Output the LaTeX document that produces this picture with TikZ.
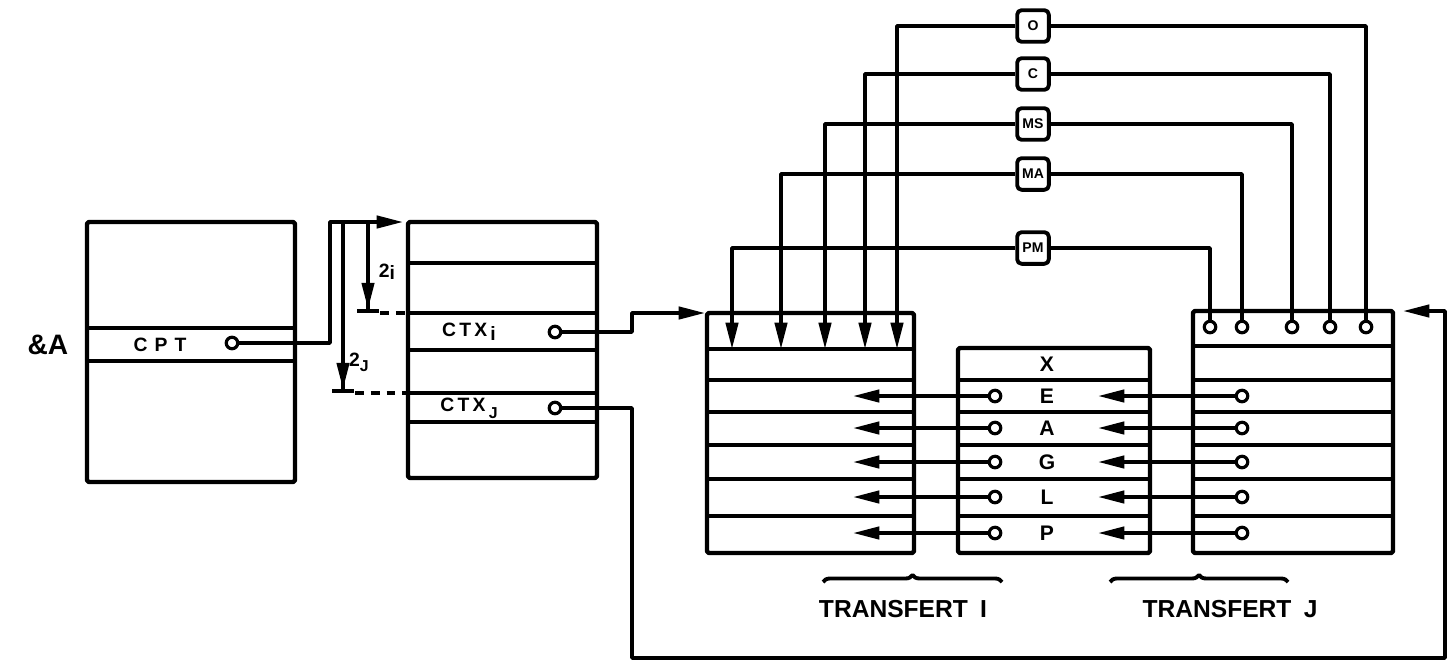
\documentclass[tikz,border=0pt]{standalone}
\usepackage{fontspec}
\setmainfont{Liberation Sans}
\usetikzlibrary{arrows.meta}
\usetikzlibrary{decorations.pathreplacing}
\usetikzlibrary{positioning}

\begin{document}
\begin{tikzpicture}[x=0.02cm, y=-0.02cm, line width=2pt, line join=round]
    \tikzset{
        every node/.style={font=\bfseries\fontsize{11}{11}\selectfont},
        port/.style={circle, draw, fill=white, inner sep=0pt, minimum size=2.3mm, line width=1.8pt},
        flag/.style={draw, rounded corners=2.5pt, fill=white, minimum size=18pt, inner sep=0pt, font=\bfseries\footnotesize, line width=2.2pt},
        tip/.style={-{Triangle[length=15pt, width=7pt]}},
        tipbar/.style={-{Triangle[length=15pt, width=7pt]Bar[width=12pt, line width=2.2pt]}},
        block/.style={line width=2.5pt, rounded corners=1pt},
        mark line/.style={dash pattern=on 5pt off 4pt},
        big/.style={font=\bfseries\fontsize{14}{14}\selectfont},
    }
    \useasboundingbox (0,0) rectangle (1456,663);

    % draw block &A
    \draw[block] (87,222) rectangle (295,482);
    \draw (87,328) -- (295,328);
    \draw (87,361) -- (295,361);
    \node[font=\bfseries\fontsize{16}{16}\selectfont] (amp) at (48,345) {\&A};
    \node (cpt) at (160,345) {C\hspace{4pt}P\hspace{4pt}T};
    \node[port] (pcpt) at (232,343) {};

    % draw block of the contexts
    \draw[block] (408,222) rectangle (597,478);
    \foreach \y in {263,313,350,393,422}
        \draw (408,\y) -- (597,\y);
    \coordinate (ctxtop) at (403,222);
    \node (ctxi) at (469,332) {C\,T\,X\,\raisebox{-2pt}{i}};
    \node[port] (pi) at (555,332) {};
    \node (ctxj) at (469,408) {C\,T\,X\,\raisebox{-4pt}{\small J}};
    \node[port] (pj) at (555,408) {};

    % pointer to the context block
    \draw[tip] (pcpt) -- ++(98,0) |- (ctxtop);

    % displacements 2i and 2J
    \coordinate (di) at (368,222);
    \coordinate (mi) at (368,313);
    \coordinate (dj) at (343,222);
    \coordinate (mj) at (343,393);
    \draw[tipbar] (di) -- (mi);
    \draw[tipbar] (dj) -- (mj);
    \draw[mark line] (380,313) -- (408,313);
    \draw[mark line] (355,393) -- (408,393);
    \node (l2i) at (387,272) {2\raisebox{-1pt}{i}};
    \node (l2j) at (359,362) {2\raisebox{-3pt}{\small J}};

    % draw the three transfer blocks
    \draw[block] (707,313) rectangle (914,553);
    \foreach \y in {349,380,412,445,479,516}
        \draw (707,\y) -- (914,\y);
    \draw[block] (958,348) rectangle (1150,553);
    \foreach \y in {380,412,445,479,516}
        \draw (958,\y) -- (1150,\y);
    \draw[block] (1193,311) rectangle (1393,553);
    \foreach \y in {346,380,412,445,479,516}
        \draw (1193,\y) -- (1393,\y);
    \coordinate (tritop) at (705,313);
    \coordinate (trjtop) at (1403,311);

    % registers
    \node[font=\bfseries\fontsize{12}{12}\selectfont] (rX) at (1047,364) {X};
    \foreach \l/\y in {E/396,A/428,G/462,L/497,P/533} {
        \node[font=\bfseries\fontsize{12}{12}\selectfont] (r\l) at (1047,\y) {\l};
        \node[port] (pi\l) at (995,\y) {};
        \node[port] (pj\l) at (1242,\y) {};
        \coordinate (ti\l) at (853,\y);
        \coordinate (tj\l) at (1098,\y);
        \draw[tip] (pi\l) -- (ti\l);
        \draw[tip] (pj\l) -- (tj\l);
    }

    % draw the flags O C MS MA PM
    \foreach \n/\lab/\y/\xs/\xd in {O/O/26/1366/897, C/C/74/1330/865, S/MS/124/1292/825, M/MA/174/1242/781, P/PM/248/1210/732} {
        \node[flag] (f\n) at (1033,\y) {\lab};
        \node[port] (q\n) at (\xs,327) {};
        \coordinate (k\n) at (\xd,349);
        \draw (q\n) |- (f\n);
        \draw[tip] (f\n) -| (k\n);
    }

    % links of CTXi and CTXJ
    \draw[tip] (pi) -- (632,332) |- (tritop);
    \draw[tip] (pj) -- (632,408) -- (632,658) -- (1445,658) |- (trjtop);

    % braces
    \draw[decorate, decoration={brace, amplitude=4pt}, line width=2.2pt] (823,582) -- (1002,582);
    \draw[decorate, decoration={brace, amplitude=4pt}, line width=2.2pt] (1110,582) -- (1288,582);
    \node[big] (tri) at (903,609) {TRANSFERT\hspace{7pt}I};
    \node[big] (trj) at (1230,609) {TRANSFERT\hspace{7pt}J};

\end{tikzpicture}
\end{document}
